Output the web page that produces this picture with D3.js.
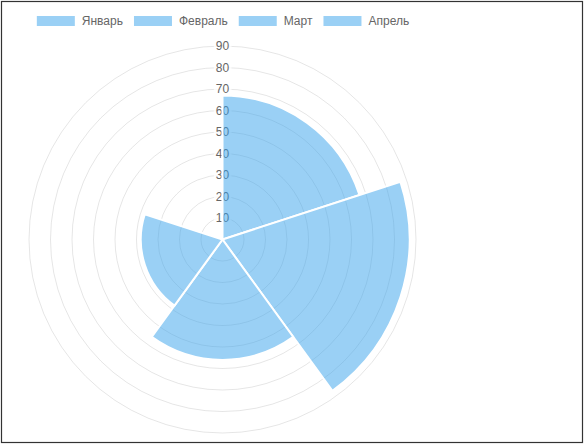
<!DOCTYPE html>
<html>
<head>
<meta charset="utf-8">
<script src="https://cdn.jsdelivr.net/npm/d3@7"></script>
<style>
    html, body { margin: 0; padding: 0; background: #fff; }
    svg { display: block; }
</style>
</head>
<body>
<svg id="chart" width="586" height="446"></svg>
<script>
// legend labels (only four are named, the fifth value has no label)
var monthLabels = ["Январь", "Февраль", "Март", "Апрель"];
var monthValues = [67, 87, 56, 38, 0];
var tickValues = [10, 20, 30, 40, 50, 60, 70, 80, 90];
var scaleMax = 90;

var fillColor = "rgba(54, 162, 235, 0.5)";

document.addEventListener('DOMContentLoaded', function () {
    drawPolar();
});

function drawPolar() {
    var svg = d3.select('#chart');
    svg.selectAll("*").remove();

    var cx = 222.5, cy = 239.5;

    // frame round the page
    svg.append('rect')
        .attr('x', 1.5).attr('y', 1.5)
        .attr('width', 581).attr('height', 441)
        .style('fill', 'none')
        .style('stroke', '#333')
        .attr('stroke-width', 1.2);

    let rScale = d3.scaleLinear().domain([0, scaleMax]).range([0, 193.5]);
    let aScale = d3.scaleLinear().domain([0, monthValues.length]).range([0, 2 * Math.PI]);

    const g = svg.append('g')
        .attr('transform', 'translate(' + cx + ', ' + cy + ')');

    // grid circles
    g.selectAll('.grid')
        .data(tickValues)
        .enter()
        .append('circle')
        .attr('class', 'grid')
        .attr('r', d => rScale(d))
        .style('fill', 'none')
        .style('stroke', 'rgba(0,0,0,0.1)')
        .attr('stroke-width', 1);

    // tick labels with backdrop
    var tickG = g.selectAll('.tick')
        .data(tickValues)
        .enter()
        .append('g')
        .attr('class', 'tick')
        .attr('transform', d => 'translate(0,' + (-rScale(d)) + ')');

    tickG.append('text')
        .attr('text-anchor', 'middle')
        .attr('dy', '0.35em')
        .style('font-family', 'Arial, "Liberation Sans", sans-serif')
        .style('font-size', '12px')
        .style('fill', '#666')
        .text(d => d);

    tickG.each(function () {
        var t = d3.select(this).select('text');
        var bb = t.node().getBBox();
        d3.select(this).insert('rect', 'text')
            .attr('x', bb.x - 2)
            .attr('y', -8)
            .attr('width', bb.width + 4)
            .attr('height', 16)
            .style('fill', 'rgba(255,255,255,0.75)');
    });

    // slices
    var arc = d3.arc()
        .innerRadius(0)
        .outerRadius(d => rScale(d.value))
        .startAngle(d => aScale(d.i))
        .endAngle(d => aScale(d.i + 1));

    g.selectAll('.slice')
        .data(monthValues.map((v, i) => ({ value: v, i: i })))
        .enter()
        .append('path')
        .attr('class', 'slice')
        .attr('d', arc)
        .style('fill', fillColor)
        .style('stroke', '#fff')
        .attr('stroke-width', 2)
        .attr('stroke-linejoin', 'miter');

    // legend, centred over the chart
    var legend = svg.append('g').attr('class', 'legend');
    var items = legend.selectAll('.item')
        .data(monthLabels)
        .enter()
        .append('g')
        .attr('class', 'item');

    items.append('rect')
        .attr('width', 40).attr('height', 12)
        .style('fill', fillColor)
        .style('stroke', '#fff')
        .attr('stroke-width', 2);

    items.append('text')
        .attr('x', 46)
        .attr('y', 6)
        .attr('dy', '0.35em')
        .style('font-family', 'Arial, "Liberation Sans", sans-serif')
        .style('font-size', '12px')
        .style('fill', '#666')
        .text(d => d);

    var widths = [];
    items.each(function () {
        widths.push(46 + d3.select(this).select('text').node().getComputedTextLength());
    });
    var total = d3.sum(widths) + 10 * (widths.length - 1);
    var x = cx - total / 2;
    items.attr('transform', function (d, i) {
        var s = 'translate(' + x + ', ' + 15 + ')';
        x += widths[i] + 10;
        return s;
    });
}
</script>
</body>
</html>
